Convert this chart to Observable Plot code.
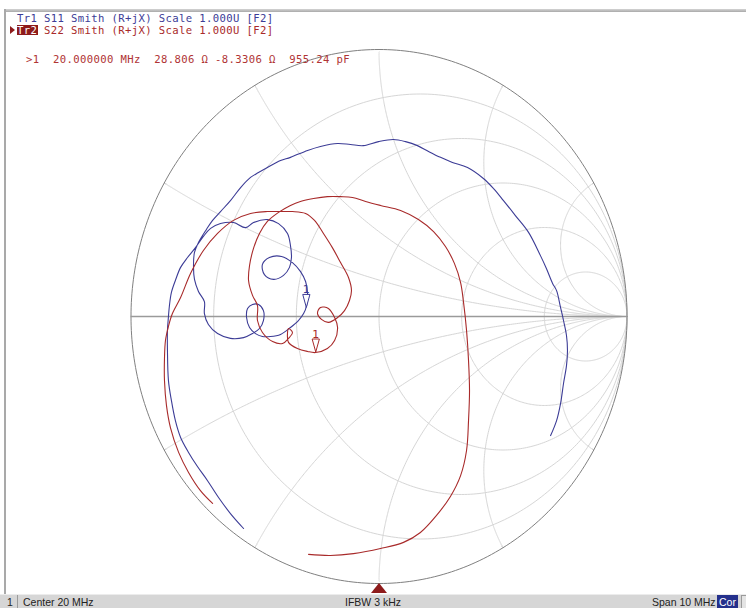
<!DOCTYPE html>
<html><head><meta charset="utf-8">
<script src="https://cdn.jsdelivr.net/npm/d3@7"></script>
<script src="https://cdn.jsdelivr.net/npm/@observablehq/plot@0.6"></script>
<style>
html,body{margin:0;padding:0;background:#fff}
#wrap{position:relative;width:746px;height:608px;overflow:hidden;background:#fff}
#chart{position:absolute;left:0;top:0}
.mono{position:absolute;font-family:"DejaVu Sans Mono",monospace;font-size:10.6px;line-height:12.34px;letter-spacing:0.37px;white-space:pre}
.bar{position:absolute;font-family:"Liberation Sans",Arial,sans-serif;font-size:10.5px;line-height:14px;color:#222;white-space:pre}
</style></head><body>
<div id="wrap">
  <div id="chart"></div>
  <div style="position:absolute;left:4px;top:9px;right:0;height:3px;background:linear-gradient(#d4d4d4,#a9a9a9)"></div>
  <div style="position:absolute;left:4px;top:9px;width:2px;height:585px;background:#a9a9a9"></div>
  <div id="h1" class="mono" style="left:17px;top:11.8px;color:#3c3c96"></div>
  <div style="position:absolute;left:10px;top:26px;width:0;height:0;border-top:4px solid transparent;border-bottom:4px solid transparent;border-left:5px solid #8e1b1b"></div>
  <div style="position:absolute;left:17px;top:25.3px;width:21px;height:10px;background:#8e1b1b"></div>
  <div id="h2" class="mono" style="left:17px;top:24.2px;color:#a82a2a"></div>
  <div id="mk" class="mono" style="left:26px;top:53.2px;color:#b03434"></div>
  <div style="position:absolute;left:370.5px;top:583px;width:0;height:0;border-left:8px solid transparent;border-right:8px solid transparent;border-bottom:10px solid #8e1b1b"></div>
  <div style="position:absolute;left:0;top:594px;width:746px;height:14px;background:#d6d6d6;border-top:1px solid #ececec"></div>
  <div style="position:absolute;left:4px;top:595px;width:13px;height:13px;border-right:1px solid #9a9a9a"></div>
  <div id="s1" class="bar" style="left:7px;top:595px"></div>
  <div id="s2" class="bar" style="left:23px;top:595px"></div>
  <div id="s3" class="bar" style="left:345px;top:595px"></div>
  <div id="s4" class="bar" style="left:652px;top:595px"></div>
  <div style="position:absolute;left:717px;top:595px;width:21px;height:13px;background:#24308c"></div>
  <div id="s5" class="bar" style="left:719px;top:595px;color:#fff"></div>
  <div style="position:absolute;left:741px;top:595px;width:8px;height:12px;background:#e4e4e4;border:1px solid #9a9a9a"></div>
</div>
<script>
// ---- texts ----
const header1 = "Tr1 S11 Smith (R+jX) Scale 1.000U [F2]";
const header2 = "    S22 Smith (R+jX) Scale 1.000U [F2]";
const header2Tag = "Tr2";
const markerLine = ">1  20.000000 MHz  28.806 \u03A9 -8.3306 \u03A9  955.24 pF";
const statusLabels = ["1", "Center 20 MHz", "IFBW 3 kHz", "Span 10 MHz", "Cor"];

// ---- Smith grid values ----
const resistanceCircles = [0.2, 0.5, 1, 2, 5];
const reactanceArcs = [0.268, 0.577, 1, 1.732, 3.732, -0.268, -0.577, -1, -1.732, -3.732];

// ---- traces: reflection coefficient [re, im] ----
const s11 = [
[0.692,-0.446],[0.716,-0.390],[0.732,-0.326],[0.744,-0.251],[0.756,-0.184],[0.760,-0.127],[0.756,-0.071],[0.744,-0.015],[0.732,0.034],[0.716,0.097],[0.700,0.124],[0.675,0.180],[0.651,0.228],[0.603,0.315],[0.550,0.378],[0.502,0.434],[0.462,0.479],[0.421,0.517],[0.357,0.558],[0.296,0.577],[0.248,0.596],[0.200,0.618],[0.155,0.640],[0.107,0.655],[0.058,0.663],[-0.002,0.655],[-0.063,0.640],[-0.115,0.644],[-0.167,0.648],[-0.236,0.637],[-0.288,0.622],[-0.357,0.596],[-0.397,0.584],[-0.450,0.558],[-0.486,0.539],[-0.518,0.521],[-0.558,0.483],[-0.599,0.434],[-0.639,0.393],[-0.671,0.360],[-0.696,0.326],
[-0.728,0.277],[-0.744,0.240],[-0.748,0.187],[-0.744,0.139],[-0.728,0.094],[-0.704,0.056],[-0.704,0.011],[-0.688,-0.030],[-0.651,-0.064],[-0.599,-0.082],[-0.546,-0.079],[-0.510,-0.064],[-0.482,-0.045],[-0.466,-0.015],[-0.466,0.022],[-0.486,0.045],[-0.510,0.045],[-0.530,0.030],[-0.534,-0.004],[-0.522,-0.041],[-0.498,-0.064],[-0.470,-0.075],[-0.438,-0.075],[-0.397,-0.067],[-0.357,-0.041],[-0.325,-0.015],[-0.304,0.011],[-0.292,0.041],[-0.288,0.086],[-0.296,0.131],[-0.317,0.169],[-0.349,0.202],[-0.393,0.225],[-0.442,0.221],[-0.470,0.195],[-0.462,0.157],[-0.425,0.139],[-0.385,0.154],[-0.361,0.184],[-0.353,0.221],[-0.357,0.266],[-0.369,0.311],[-0.405,0.348],[-0.450,0.363],[-0.506,0.352],[-0.538,0.333],[-0.587,0.352],[-0.639,0.348],[-0.679,0.330],
[-0.708,0.300],[-0.740,0.258],[-0.772,0.221],[-0.800,0.184],[-0.821,0.135],[-0.837,0.090],[-0.845,0.041],[-0.849,0.000],[-0.853,-0.052],[-0.853,-0.127],[-0.849,-0.240],[-0.837,-0.315],[-0.821,-0.390],[-0.800,-0.453],[-0.768,-0.509],[-0.732,-0.562],[-0.692,-0.614],[-0.647,-0.678],[-0.599,-0.738],[-0.546,-0.794]
];
const s22 = [
[-0.671,-0.700],[-0.720,-0.652],[-0.768,-0.584],[-0.808,-0.509],[-0.841,-0.416],[-0.857,-0.333],[-0.865,-0.240],[-0.865,-0.157],[-0.861,-0.090],[-0.849,-0.037],[-0.833,0.011],[-0.800,0.071],[-0.760,0.161],[-0.708,0.247],[-0.651,0.311],[-0.587,0.360],[-0.518,0.386],[-0.450,0.393],[-0.397,0.393],
[-0.349,0.393],[-0.296,0.386],[-0.260,0.360],[-0.224,0.311],[-0.188,0.258],[-0.155,0.202],[-0.123,0.146],[-0.111,0.097],[-0.119,0.060],[-0.139,0.022],[-0.167,-0.004],[-0.204,-0.022],[-0.232,-0.011],[-0.248,0.011],[-0.236,0.034],[-0.204,0.030],[-0.179,-0.004],[-0.167,-0.041],[-0.179,-0.090],[-0.208,-0.120],[-0.256,-0.135],[-0.288,-0.131],[-0.329,-0.120],[-0.365,-0.097],[-0.369,-0.064],[-0.365,-0.045],[-0.349,-0.060],[-0.365,-0.082],[-0.389,-0.101],[-0.429,-0.094],[-0.470,-0.060],[-0.490,-0.015],[-0.490,0.041],[-0.510,0.079],[-0.526,0.135],[-0.522,0.191],[-0.506,0.255],[-0.482,0.311],[-0.450,0.356],[-0.405,0.390],
[-0.357,0.416],[-0.317,0.431],[-0.264,0.442],[-0.208,0.449],[-0.155,0.449],[-0.107,0.446],[-0.054,0.431],[0.006,0.416],[0.087,0.397],[0.159,0.363],[0.220,0.318],[0.268,0.262],[0.304,0.199],[0.329,0.127],[0.341,0.052],[0.353,-0.052],[0.361,-0.165],[0.365,-0.277],[0.361,-0.390],[0.353,-0.502],[0.329,-0.596],[0.288,-0.674],[0.232,-0.745],[0.167,-0.809],[0.099,-0.846],[0.006,-0.869],[-0.103,-0.888],[-0.196,-0.895],[-0.284,-0.891]
];
// marker 1 (20 MHz) on each trace
const marker1 = [
  {trace: "S11", re: -0.293, im: 0.034},
  {trace: "S22", re: -0.255, im: -0.133}
];

const blue = "#3c3c96", red = "#a82a2a";

// ---- build grid geometry ----
const gridPts = [];
resistanceCircles.forEach(r => {
  const c = r / (1 + r), rho = 1 / (1 + r);
  for (let i = 0; i <= 360; i++) {
    const a = i * Math.PI / 180;
    gridPts.push({g: "r" + r, x: c + rho * Math.cos(a), y: rho * Math.sin(a)});
  }
});
function gamma(r, x) { const d = (r + 1) * (r + 1) + x * x; return [(r * r + x * x - 1) / d, 2 * x / d]; }
reactanceArcs.forEach(xv => {
  const rs = [0];
  for (let k = -3; k <= 4.001; k += 0.01) rs.push(Math.pow(10, k));
  rs.forEach(r => { const [gx, gy] = gamma(r, xv); gridPts.push({g: "x" + xv, x: gx, y: gy}); });
});
const rim = d3.range(0, 361).map(i => ({x: Math.cos(i * Math.PI / 180), y: Math.sin(i * Math.PI / 180)}));

const tri = {draw(ctx, size) { ctx.moveTo(0, 0); ctx.lineTo(-3.6, -13); ctx.lineTo(3.6, -13); ctx.closePath(); }};

const plot = Plot.plot({
  width: 746, height: 608,
  marginLeft: 130.5, marginRight: 119.5, marginTop: 49, marginBottom: 25,
  x: {domain: [-1, 1], axis: null},
  y: {domain: [-1, 1], axis: null},
  style: {background: "transparent"},
  marks: [
    Plot.line(gridPts, {x: "x", y: "y", z: "g", stroke: "#d6d6d6", strokeWidth: 1}),
    Plot.line(rim, {x: "x", y: "y", stroke: "#808080", strokeWidth: 1}),
    Plot.ruleY([0], {x1: -1, x2: 1, stroke: "#9a9a9a", strokeWidth: 1.5}),
    Plot.line(s11, {x: d => d[0], y: d => d[1], stroke: blue, strokeWidth: 1.1, curve: "catmull-rom"}),
    Plot.line(s22, {x: d => d[0], y: d => d[1], stroke: red, strokeWidth: 1.1, curve: "catmull-rom"}),
    Plot.dot(marker1, {x: "re", y: "im", symbol: tri, r: 4, fill: "white", stroke: d => d.trace === "S11" ? blue : red, strokeWidth: 1}),
    Plot.text(marker1, {x: "re", y: "im", text: () => "1", dy: -18, fontSize: 11, fontFamily: "DejaVu Sans", fill: d => d.trace === "S11" ? blue : red})
  ]
});
document.getElementById("chart").appendChild(plot);

document.getElementById("h1").textContent = header1;
document.getElementById("h2").innerHTML = '<span style="color:#fff">' + header2Tag + '</span>' + header2.slice(3);
document.getElementById("mk").textContent = markerLine;
["s1","s2","s3","s4","s5"].forEach((id, i) => document.getElementById(id).textContent = statusLabels[i]);
</script>
</body></html>
